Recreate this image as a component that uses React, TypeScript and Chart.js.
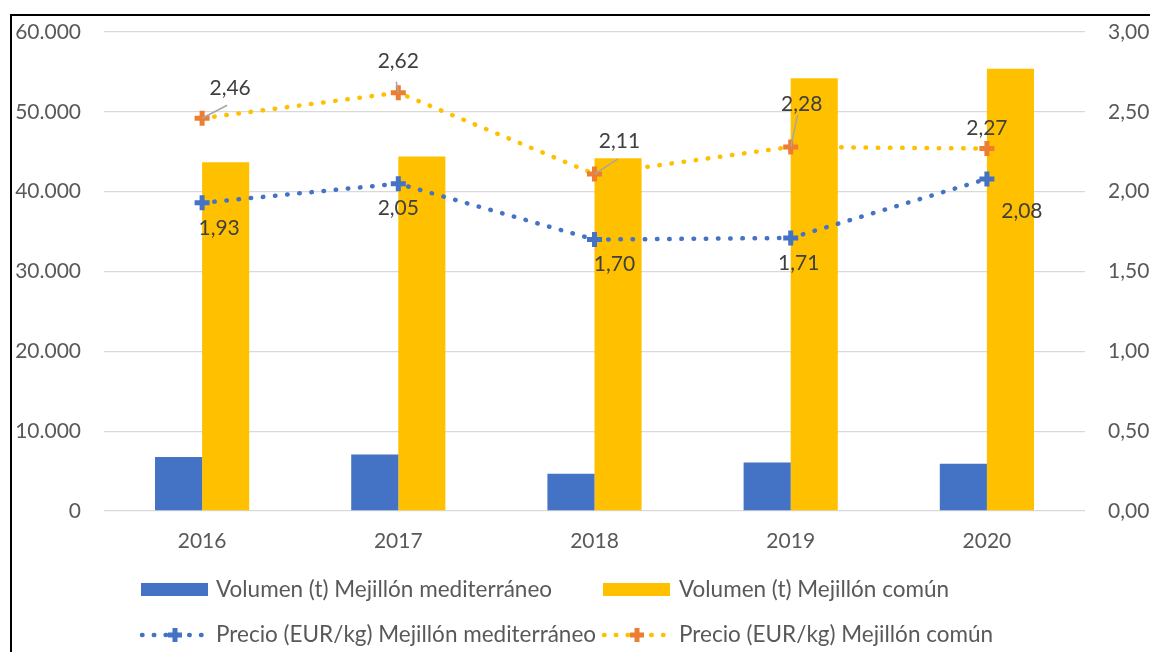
import React, { useEffect, useRef } from "react";
import { Chart, registerables } from "chart.js";

Chart.register(...registerables);

// ---- Data ----
const categories = ["2016", "2017", "2018", "2019", "2020"];
const volumenMediterraneo = [6750, 7080, 4660, 6080, 5920];
const volumenComun = [43700, 44400, 44200, 54200, 55400];
const precioMediterraneo = [1.93, 2.05, 1.7, 1.71, 2.08];
const precioComun = [2.46, 2.62, 2.11, 2.28, 2.27];
const leftTickValues = [0, 10000, 20000, 30000, 40000, 50000, 60000];
const rightTickValues = [0, 0.5, 1, 1.5, 2, 2.5, 3];

const seriesNames = [
  "Volumen (t) Mejillón mediterráneo",
  "Volumen (t) Mejillón común",
  "Precio (EUR/kg) Mejillón mediterráneo",
  "Precio (EUR/kg) Mejillón común",
];

// ---- Style ----
const BLUE = "#4472C4";
const YELLOW = "#FFC000";
const ORANGE = "#ED7D31";
const TEXT = "#595959";
const LABEL = "#404040";
const FONT_FAMILY = "Lato, 'Noto Sans', sans-serif";
const FONT_SIZE = 21;
const LEGEND_FONT_SIZE = 22.5;

// label offsets (style) relative to points
const labelOffsetsMed = [
  [17, 25],
  [0, 25],
  [20, 25],
  [8, 25],
  [35, 32],
];
const labelOffsetsCom = [
  [28, -30],
  [0, -31],
  [25, -33],
  [11, -43],
  [0, -20],
];
const leaderCom: (number[] | null)[] = [
  [25, -13],
  [-2, -11],
  [23, -15],
  [7, -32],
  null,
];

const fmtThousands = (v: number) =>
  String(Math.round(v)).replace(/\B(?=(\d{3})+(?!\d))/g, ".");
const fmtDecimal = (v: number) => v.toFixed(2).replace(".", ",");

function drawPlus(ctx: CanvasRenderingContext2D, x: number, y: number, r: number, w: number, color: string) {
  ctx.save();
  ctx.strokeStyle = color;
  ctx.lineWidth = w;
  ctx.beginPath();
  ctx.moveTo(x - r, y);
  ctx.lineTo(x + r, y);
  ctx.moveTo(x, y - r);
  ctx.lineTo(x, y + r);
  ctx.stroke();
  ctx.restore();
}

const dataLabelPlugin = {
  id: "dataLabels",
  afterDatasetsDraw(chart: any) {
    const ctx = chart.ctx as CanvasRenderingContext2D;
    const sets: [number, number[][], (number[] | null)[] | null, number[]][] = [
      [2, labelOffsetsMed, null, precioMediterraneo],
      [3, labelOffsetsCom, leaderCom, precioComun],
    ];
    ctx.save();
    for (const [idx, offs, leaders, vals] of sets) {
      const meta = chart.getDatasetMeta(idx);
      meta.data.forEach((pt: any, i: number) => {
        if (leaders && leaders[i]) {
          ctx.strokeStyle = "#A6A6A6";
          ctx.lineWidth = 1.5;
          ctx.beginPath();
          ctx.moveTo(pt.x, pt.y);
          ctx.lineTo(pt.x + leaders[i]![0], pt.y + leaders[i]![1]);
          ctx.stroke();
        }
        ctx.fillStyle = LABEL;
        ctx.font = `${FONT_SIZE}px ${FONT_FAMILY}`;
        ctx.textAlign = "center";
        ctx.textBaseline = "middle";
        ctx.fillText(fmtDecimal(vals[i]), pt.x + offs[i][0], pt.y + offs[i][1]);
      });
    }
    ctx.restore();
  },
};

const legendPlugin = {
  id: "gridLegend",
  afterDraw(chart: any) {
    const ctx = chart.ctx as CanvasRenderingContext2D;
    ctx.save();
    ctx.font = `${LEGEND_FONT_SIZE}px ${FONT_FAMILY}`;
    ctx.textBaseline = "middle";
    ctx.textAlign = "left";
    const col = [141, 603];
    const textX = [216, 679];
    const rowY = [590, 635];
    // bars
    const barColors = [BLUE, YELLOW];
    for (let c = 0; c < 2; c++) {
      ctx.fillStyle = barColors[c];
      ctx.fillRect(col[c], rowY[0] - 7, 67, 13);
      ctx.fillStyle = TEXT;
      ctx.fillText(seriesNames[c], textX[c], rowY[0]);
    }
    // lines
    const lineColors = [BLUE, YELLOW];
    const markColors = [BLUE, ORANGE];
    for (let c = 0; c < 2; c++) {
      ctx.save();
      ctx.strokeStyle = lineColors[c];
      ctx.lineWidth = 4.5;
      ctx.lineCap = "round";
      ctx.setLineDash([0.5, 11.3]);
      ctx.beginPath();
      ctx.moveTo(col[c] + 1, rowY[1]);
      ctx.lineTo(col[c] + 66, rowY[1]);
      ctx.stroke();
      ctx.restore();
      drawPlus(ctx, col[c] + 34, rowY[1], 7, 5, markColors[c]);
      ctx.fillStyle = TEXT;
      ctx.fillText(seriesNames[c + 2], textX[c], rowY[1]);
    }
    ctx.restore();
  },
};

export default function App() {
  const ref = useRef<HTMLCanvasElement | null>(null);

  useEffect(() => {
    if (!ref.current) return;
    const font = { family: FONT_FAMILY, size: FONT_SIZE };
    const chart = new Chart(ref.current, {
      type: "bar",
      data: {
        labels: categories,
        datasets: [
          {
            type: "bar",
            label: seriesNames[0],
            data: volumenMediterraneo,
            backgroundColor: BLUE,
            yAxisID: "y",
            order: 2,
            barPercentage: 1,
            categoryPercentage: 0.48,
          },
          {
            type: "bar",
            label: seriesNames[1],
            data: volumenComun,
            backgroundColor: YELLOW,
            yAxisID: "y",
            order: 2,
            barPercentage: 1,
            categoryPercentage: 0.48,
          },
          {
            type: "line",
            label: seriesNames[2],
            data: precioMediterraneo,
            yAxisID: "y1",
            order: 0,
            borderColor: BLUE,
            borderWidth: 4.5,
            borderDash: [0.5, 11.7],
            borderCapStyle: "round",
            tension: 0,
            fill: false,
            pointStyle: "cross",
            pointRadius: 7.5,
            pointBorderWidth: 5,
            pointBorderColor: BLUE,
            pointBackgroundColor: BLUE,
          } as any,
          {
            type: "line",
            label: seriesNames[3],
            data: precioComun,
            yAxisID: "y1",
            order: 1,
            borderColor: YELLOW,
            borderWidth: 4.5,
            borderDash: [0.5, 11.7],
            borderCapStyle: "round",
            tension: 0,
            fill: false,
            pointStyle: "cross",
            pointRadius: 7.5,
            pointBorderWidth: 5,
            pointBorderColor: ORANGE,
            pointBackgroundColor: ORANGE,
          } as any,
        ],
      },
      options: {
        responsive: false,
        maintainAspectRatio: false,
        animation: false,
        layout: { padding: { top: 32, bottom: 91, left: 0, right: 0 } },
        plugins: {
          legend: { display: false },
          tooltip: { enabled: false },
        },
        scales: {
          x: {
            grid: { display: false },
            border: { display: false },
            ticks: { font, color: TEXT, padding: 10 },
            afterFit: (s: any) => {
              s.height = 50;
            },
          },
          y: {
            position: "left",
            min: 0,
            max: 60000,
            afterBuildTicks: (s: any) => {
              s.ticks = leftTickValues.map((v) => ({ value: v }));
            },
            ticks: {
              font,
              color: TEXT,
              padding: 23,
              callback: (v: any) => fmtThousands(Number(v)),
            },
            grid: { color: "#D9D9D9", lineWidth: 1.3, drawTicks: false },
            border: { display: false },
            afterFit: (s: any) => {
              s.width = 104;
              s.paddingTop = 10;
              s.paddingBottom = 10;
            },
          },
          y1: {
            position: "right",
            min: 0,
            max: 3,
            afterBuildTicks: (s: any) => {
              s.ticks = rightTickValues.map((v) => ({ value: v }));
            },
            ticks: {
              font,
              color: TEXT,
              padding: 23,
              callback: (v: any) => fmtDecimal(Number(v)),
            },
            grid: { display: false, drawTicks: false },
            border: { display: false },
            afterFit: (s: any) => {
              s.width = 65;
              s.paddingTop = 10;
              s.paddingBottom = 10;
            },
          },
        },
      } as any,
      plugins: [dataLabelPlugin, legendPlugin],
    });
    return () => chart.destroy();
  }, []);

  return (
    <div
      style={{
        position: "fixed",
        left: 0,
        top: 0,
        width: 1150,
        height: 652,
        overflow: "hidden",
        background: "#fff",
      }}
    >
      <div
        style={{
          position: "absolute",
          left: 10,
          top: 14,
          width: 1300,
          height: 800,
          border: "2px solid #000",
        }}
      />
      <canvas
        ref={ref}
        width={1150}
        height={652}
        style={{ position: "absolute", left: 0, top: 0, width: 1150, height: 652 }}
      />
    </div>
  );
}
